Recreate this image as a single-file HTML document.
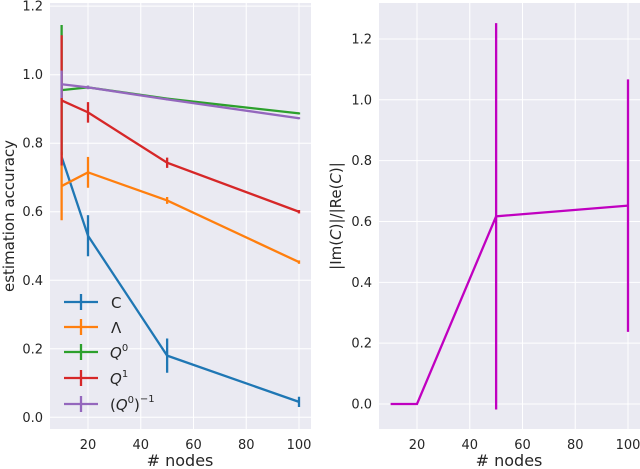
<!DOCTYPE html>
<html><head><meta charset="utf-8"><style>
body{margin:0;background:#fff;overflow:hidden;}
svg text{font-family:"DejaVu Sans","Liberation Sans",sans-serif;fill:#262626;}
</style></head><body>
<svg id="chart" width="640" height="469" xmlns="http://www.w3.org/2000/svg" style="position:absolute;left:0;top:0"></svg>
<script>
const xs = [10, 20, 50, 100];
const cVals = [0.76, 0.53, 0.18, 0.045];
const cErr = [0.0, 0.06, 0.05, 0.015];
const lamVals = [0.675, 0.715, 0.633, 0.453];
const lamErr = [0.1, 0.045, 0.01, 0.005];
const q0Vals = [0.955, 0.963, 0.93, 0.887];
const q0Err = [0.19, 0.005, 0.003, 0.003];
const q1Vals = [0.925, 0.89, 0.743, 0.6];
const q1Err = [0.19, 0.03, 0.015, 0.005];
const qinvVals = [0.972, 0.963, 0.928, 0.873];
const qinvErr = [0.04, 0.005, 0.003, 0.003];
const ratioVals = [0, 0, 0.617, 0.652];
const ratioErr = [0, 0, 0.635, 0.415];
const xTicks = [20, 40, 60, 80, 100];
const yTicksL = [0.0, 0.2, 0.4, 0.6, 0.8, 1.0, 1.2];
const yTicksR = [0.0, 0.2, 0.4, 0.6, 0.8, 1.0, 1.2];

const NS = "http://www.w3.org/2000/svg";
const svg = document.getElementById('chart');
function mk(tag, attrs, parent){const e=document.createElementNS(NS,tag);for(const k in attrs)e.setAttribute(k,attrs[k]);(parent||svg).appendChild(e);return e;}

const L = {x0:50, x1:311, y0:3, y1:429, sx:v=>88+(v-20)*2.6375, sy:v=>417.3-v*342.6/1.0};
const R = {x0:379, x1:640, y0:3, y1:429, sx:v=>417+(v-20)*2.6375, sy:v=>404-v*304.2};

function axes(ax, yTicks, name){
  const g = mk('g',{});
  
  
  mk('rect',{x:ax.x0,y:ax.y0,width:ax.x1-ax.x0,height:ax.y1-ax.y0,fill:'#eaeaf2'},g);
  xTicks.forEach(t=>{
    const x=ax.sx(t);
    mk('line',{x1:x,x2:x,y1:ax.y0,y2:ax.y1,stroke:'#fff','stroke-width':1},g);
    const tx=mk('text',{x:x,y:449,'text-anchor':'middle','font-size':13},g);tx.textContent=t;
    
    
  });
  yTicks.forEach(t=>{
    const y=ax.sy(t);
    mk('line',{x1:ax.x0,x2:ax.x1,y1:y,y2:y,stroke:'#fff','stroke-width':1},g);
    const tx=mk('text',{x:ax.x0-7,y:y+4.5,'text-anchor':'end','font-size':13},g);tx.textContent=t.toFixed(1);
    
    
  });
}
function series(ax, vals, errs, color, name){
  const g=mk('g',{});
  
  
  mk('polyline',{points:xs.map((x,i)=>ax.sx(x)+','+ax.sy(vals[i])).join(' '),fill:'none',stroke:color,'stroke-width':2.3},g);
  xs.forEach((x,i)=>{ if(errs[i]>0){
    const l=mk('line',{x1:ax.sx(x),x2:ax.sx(x),y1:ax.sy(vals[i]-errs[i]),y2:ax.sy(vals[i]+errs[i]),stroke:color,'stroke-width':2.3},g);
    
    
  }});
}
axes(L, yTicksL, 'left-axes');
axes(R, yTicksR, 'right-axes');
series(L, cVals, cErr, '#1f77b4', 'series-c');
series(L, lamVals, lamErr, '#ff7f0e', 'series-lambda');
series(L, q0Vals, q0Err, '#2ca02c', 'series-q0');
series(L, q1Vals, q1Err, '#d62728', 'series-q1');
series(L, qinvVals, qinvErr, '#9467bd', 'series-q0-inverse');
series(R, ratioVals, ratioErr, '#c000c0', 'series-ratio');
</script>
<svg width="640" height="469" xmlns="http://www.w3.org/2000/svg" style="position:absolute;left:0;top:0;pointer-events:none">
  <g font-family="DejaVu Sans, Liberation Sans, sans-serif" font-size="15" fill="#262626">
    <g><line x1="64" x2="98" y1="302" y2="302" stroke="#1f77b4" stroke-width="2.3"/><line x1="81" x2="81" y1="294" y2="310" stroke="#1f77b4" stroke-width="2.3"/><text x="111" y="308">C</text></g>
    <g><line x1="64" x2="98" y1="327" y2="327" stroke="#ff7f0e" stroke-width="2.3"/><line x1="81" x2="81" y1="319" y2="335" stroke="#ff7f0e" stroke-width="2.3"/><text x="111" y="333">Λ</text></g>
    <g><line x1="64" x2="98" y1="352" y2="352" stroke="#2ca02c" stroke-width="2.3"/><line x1="81" x2="81" y1="344" y2="360" stroke="#2ca02c" stroke-width="2.3"/><text x="110" y="358" font-style="italic">Q<tspan font-size="10" dy="-7" font-style="normal">0</tspan></text></g>
    <g><line x1="64" x2="98" y1="378" y2="378" stroke="#d62728" stroke-width="2.3"/><line x1="81" x2="81" y1="370" y2="386" stroke="#d62728" stroke-width="2.3"/><text x="110" y="384" font-style="italic">Q<tspan font-size="10" dy="-7" font-style="normal">1</tspan></text></g>
    <g><line x1="64" x2="98" y1="404" y2="404" stroke="#9467bd" stroke-width="2.3"/><line x1="81" x2="81" y1="396" y2="412" stroke="#9467bd" stroke-width="2.3"/><text x="110" y="410">(<tspan font-style="italic">Q</tspan><tspan font-size="10" dy="-7">0</tspan><tspan dy="7">)</tspan><tspan font-size="10" dy="-8">−1</tspan></text></g>
  </g>
  <text x="180" y="466" text-anchor="middle" font-size="16" fill="#262626" font-family="DejaVu Sans, sans-serif"># nodes</text>
  <text x="509" y="466" text-anchor="middle" font-size="16" fill="#262626" font-family="DejaVu Sans, sans-serif"># nodes</text>
  <text transform="translate(14,216) rotate(-90)" text-anchor="middle" font-size="15" fill="#262626" font-family="DejaVu Sans, sans-serif">estimation accuracy</text>
  <text transform="translate(341,216) rotate(-90)" text-anchor="middle" font-size="15" fill="#262626" font-family="DejaVu Sans, sans-serif">|Im(<tspan font-style="italic">C</tspan>)|/|Re(<tspan font-style="italic">C</tspan>)|</text>
</svg>
</body></html>
